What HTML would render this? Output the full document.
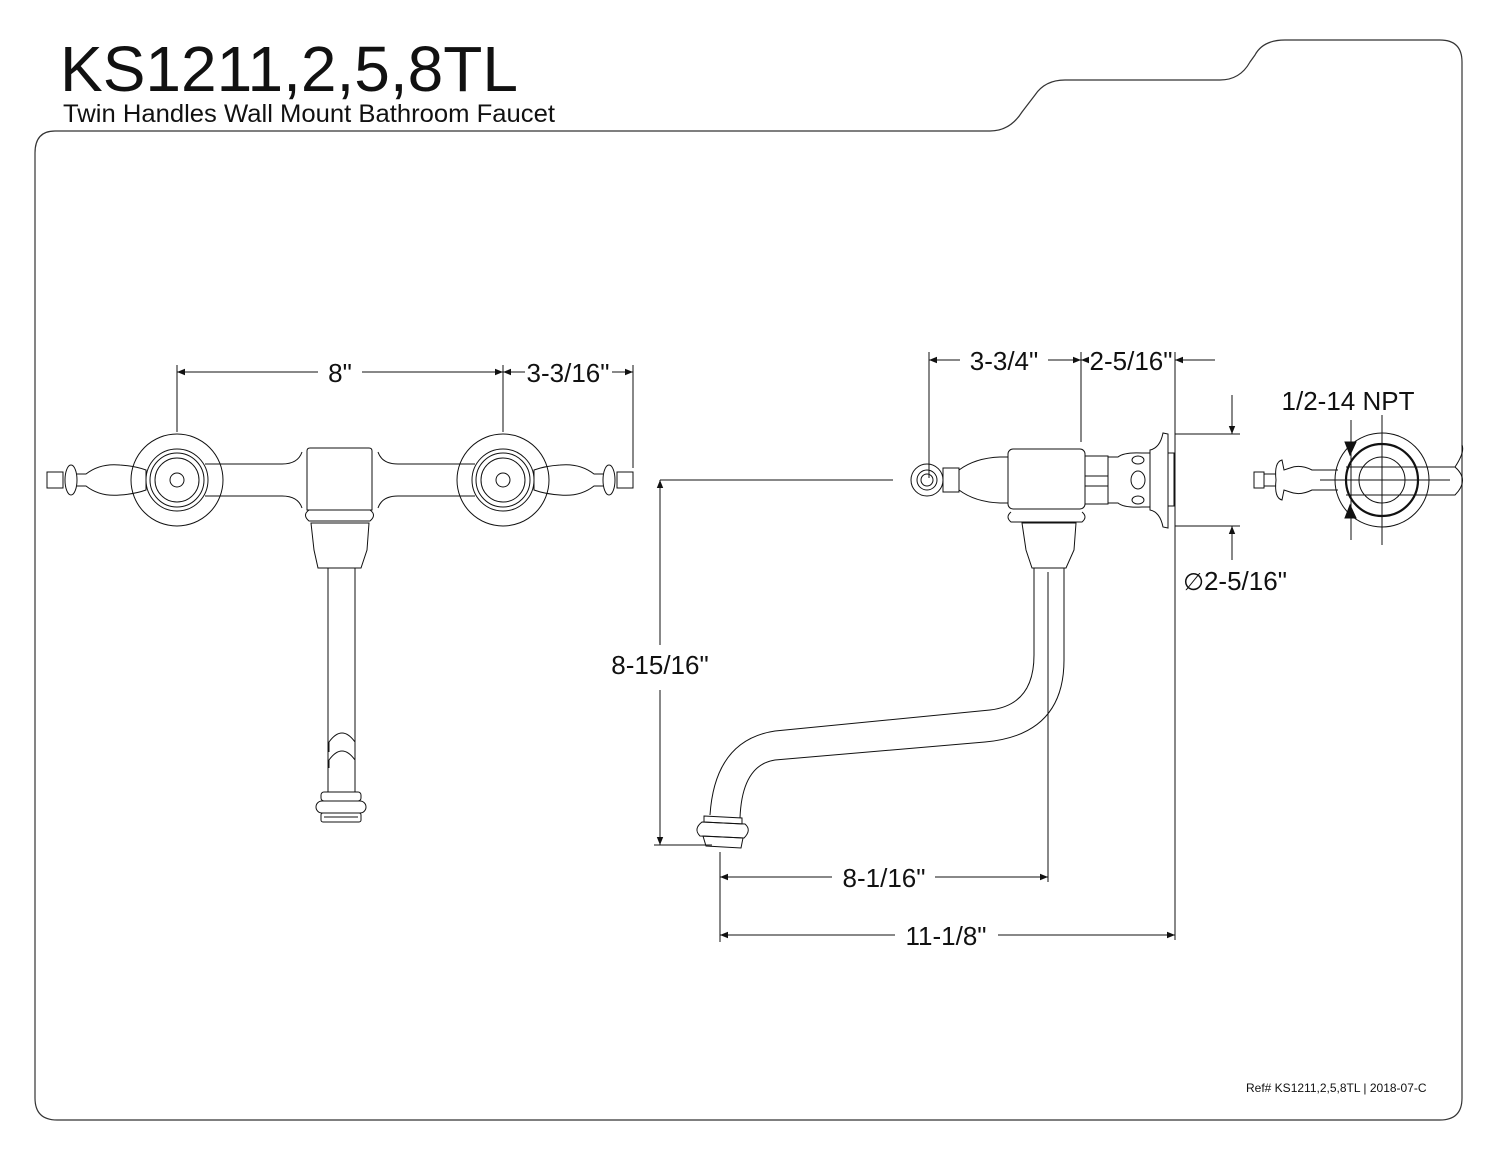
<!DOCTYPE html>
<html><head><style>
html,body{margin:0;padding:0;background:#fff;}
svg{display:block;}
text{font-family:"Liberation Sans",sans-serif;fill:#111;}
</style></head><body>
<svg width="1500" height="1159" viewBox="0 0 1500 1159" xmlns="http://www.w3.org/2000/svg">
<defs>
<marker id="a" viewBox="0 0 10 10" refX="10" refY="5" markerWidth="18" markerHeight="8" markerUnits="userSpaceOnUse" orient="auto-start-reverse"><path d="M0,1 L10,5 L0,9 z" fill="#111"/></marker>
</defs>
<path d="M55,131 L990,131 Q1010,131 1022,112 L1035,95 Q1045,80 1065,80 L1220,80 Q1240,80 1250,62 L1255,55 Q1263,40 1285,40 L1440,40 Q1462,40 1462,62 L1462,1098 Q1462,1120 1440,1120 L57,1120 Q35,1120 35,1098 L35,153 Q35,131 55,131 Z" fill="none" stroke="#333" stroke-width="1.2"/>
<text x="60" y="91" font-size="64" textLength="458" lengthAdjust="spacingAndGlyphs">KS1211,2,5,8TL</text>
<text x="63" y="122" font-size="25" textLength="492" lengthAdjust="spacingAndGlyphs">Twin Handles Wall Mount Bathroom Faucet</text>
<text x="1246" y="1092" font-size="12">Ref# KS1211,2,5,8TL | 2018-07-C</text>

<g stroke="#111" stroke-width="1" fill="none">
<line x1="177" y1="365" x2="177" y2="432"/><line x1="503" y1="365" x2="503" y2="432"/><line x1="633" y1="365" x2="633" y2="468"/>
<line x1="177" y1="372" x2="318" y2="372" marker-start="url(#a)"/><line x1="362" y1="372" x2="503" y2="372" marker-end="url(#a)"/>
<line x1="503" y1="372" x2="525" y2="372" marker-start="url(#a)"/><line x1="612" y1="372" x2="633" y2="372" marker-end="url(#a)"/>
<line x1="929" y1="352" x2="929" y2="478"/><line x1="1081" y1="352" x2="1081" y2="442"/><line x1="1175" y1="352" x2="1175" y2="940"/>
<line x1="929" y1="360" x2="960" y2="360" marker-start="url(#a)"/><line x1="1048" y1="360" x2="1081" y2="360" marker-end="url(#a)"/>
<line x1="1081" y1="360" x2="1085" y2="360" marker-start="url(#a)"/><line x1="1175" y1="360" x2="1215" y2="360" marker-start="url(#a)"/>
<line x1="1175" y1="434" x2="1240" y2="434"/><line x1="1175" y1="526" x2="1240" y2="526"/>
<line x1="1232" y1="395" x2="1232" y2="434" marker-end="url(#a)"/><line x1="1232" y1="526" x2="1232" y2="560" marker-start="url(#a)"/>
<line x1="660" y1="480" x2="893" y2="480"/><line x1="654" y1="845" x2="712" y2="845"/>
<line x1="660" y1="480" x2="660" y2="645" marker-start="url(#a)"/><line x1="660" y1="690" x2="660" y2="845" marker-end="url(#a)"/>
<line x1="1048" y1="572" x2="1048" y2="882"/><line x1="720" y1="852" x2="720" y2="942"/>
<line x1="720" y1="877" x2="832" y2="877" marker-start="url(#a)"/><line x1="935" y1="877" x2="1048" y2="877" marker-end="url(#a)"/>
<line x1="720" y1="935" x2="895" y2="935" marker-start="url(#a)"/><line x1="998" y1="935" x2="1175" y2="935" marker-end="url(#a)"/>

<!-- left faucet -->
<circle cx="177" cy="480" r="46"/><circle cx="503" cy="480" r="46"/>
<circle cx="177" cy="480" r="31"/><circle cx="177" cy="480" r="27"/><circle cx="177" cy="480" r="22"/><circle cx="177" cy="480" r="7"/>
<circle cx="503" cy="480" r="31"/><circle cx="503" cy="480" r="27"/><circle cx="503" cy="480" r="22"/><circle cx="503" cy="480" r="7"/>
<path d="M205,464 L282,464 Q298,464 302,452 M205,496 L282,496 Q298,496 302,508"/>
<path d="M475,464 L398,464 Q382,464 378,452 M475,496 L398,496 Q382,496 378,508"/>
<path d="M307,451 Q307,448 310,448 L369,448 Q372,448 372,451 L372,510 L307,510 Z"/>
<path d="M309,510 Q302,515 309,521 L370,521 Q377,515 370,510"/>
<path d="M311,523 L369,523 L367,550 L361,568 L318,568 L314,550 Z"/>
<line x1="328" y1="568" x2="328" y2="792"/><line x1="355" y1="568" x2="355" y2="792"/>
<path d="M329,752 L329,742 Q342,724 355,742 L355,752 M329,768 L329,760 Q342,742 355,760"/>
<rect x="321" y="792" width="40" height="9" rx="3"/>
<rect x="316" y="801" width="50" height="12" rx="6"/>
<rect x="321" y="813" width="40" height="9" rx="2"/>
<line x1="324" y1="817" x2="358" y2="817"/>
<!-- left handle -->
<rect x="47" y="472" width="16" height="16"/>
<ellipse cx="71" cy="480" rx="6" ry="15"/>
<path d="M77,474 L86,474 Q100,463 120,465 Q135,466 146,470 L146,490 Q135,494 120,495 Q100,497 86,486 L77,486"/>
<!-- right handle -->
<rect x="617" y="472" width="16" height="16"/>
<ellipse cx="609" cy="480" rx="6" ry="15"/>
<path d="M603,474 L594,474 Q580,463 560,465 Q545,466 534,470 L534,490 Q545,494 560,495 Q580,497 594,486 L603,486"/>

<!-- side view -->
<circle cx="927" cy="480" r="16"/><circle cx="927" cy="480" r="10"/><circle cx="927" cy="480" r="6"/>
<rect x="943" y="468" width="16" height="24"/>
<path d="M959,470 Q975,458 1000,457 L1008,457 L1008,503 L1000,503 Q975,502 959,490 Z"/>
<rect x="1008" y="449" width="77" height="60" rx="5"/>
<rect x="1085" y="456" width="23" height="48"/>
<line x1="1085" y1="476" x2="1108" y2="476"/><line x1="1085" y1="486" x2="1108" y2="486"/>
<path d="M1108,457 L1118,457 Q1124,452 1142,453 L1150,453 L1150,507 L1142,507 Q1124,508 1118,503 L1108,503 Z"/>
<ellipse cx="1138" cy="480" rx="7" ry="9"/><ellipse cx="1138" cy="460" rx="6" ry="4"/><ellipse cx="1138" cy="500" rx="6" ry="4"/>
<path d="M1150,450 Q1160,448 1163,433 L1168,434 L1168,528 L1163,527 Q1160,512 1150,510 Z"/>
<rect x="1168" y="453" width="6" height="53"/>
<path d="M1011,512 Q1005,517 1011,522 L1082,522 Q1088,517 1082,512"/>
<path d="M1022,523 L1076,523 L1074,550 L1066,568 L1032,568 L1026,550 Z"/>
<path d="M1034,568 L1034,655 Q1034,705 990,710 L775,731 Q715,740 710,815"/>
<path d="M1064,568 L1064,660 Q1064,735 985,742 L775,760 Q742,765 740,818"/>
<path d="M704,816 L742,818 L742,824 L704,822 Z"/>
<path d="M702,822 L745,824 Q752,830 744,838 L700,836 Q693,829 702,822 Z"/>
<path d="M703,836 L743,838 L741,848 L706,846 Z"/>

<!-- end view -->
<circle cx="1382" cy="480" r="47"/><circle cx="1382" cy="480" r="36" stroke-width="2.2"/><circle cx="1382" cy="480" r="23"/>
<line x1="1382" y1="415" x2="1382" y2="545"/><line x1="1320" y1="480" x2="1450" y2="480"/>
<line x1="1351" y1="420" x2="1351" y2="540"/>
<path d="M1346,467 L1455,467 Q1465,452 1462,445 M1346,495 L1455,495 Q1470,480 1455,467"/>
<path d="M1338,470 L1312,470 Q1300,464 1290,468 L1284,470 L1282,460 Q1274,462 1276,480 Q1274,498 1282,500 L1284,490 L1290,492 Q1300,496 1312,490 L1338,490"/>
<rect x="1254" y="472" width="10" height="16"/>
<path d="M1264,474 L1276,474 M1264,486 L1276,486"/>
<path d="M1356,442 L1350,455 L1345,442 Z M1350,505 L1356,518 L1345,518 Z" fill="#111"/>
</g>

<g font-size="26" text-anchor="middle">
<text x="340" y="382">8"</text>
<text x="568" y="382">3-3/16"</text>
<text x="1004" y="370">3-3/4"</text>
<text x="1131" y="370">2-5/16"</text>
<text x="1348" y="410">1/2-14 NPT</text>
<text x="1235" y="590"><tspan font-size="24">∅</tspan>2-5/16"</text>
<text x="660" y="674">8-15/16"</text>
<text x="884" y="887">8-1/16"</text>
<text x="946" y="945">11-1/8"</text>
</g>
</svg>
</body></html>
